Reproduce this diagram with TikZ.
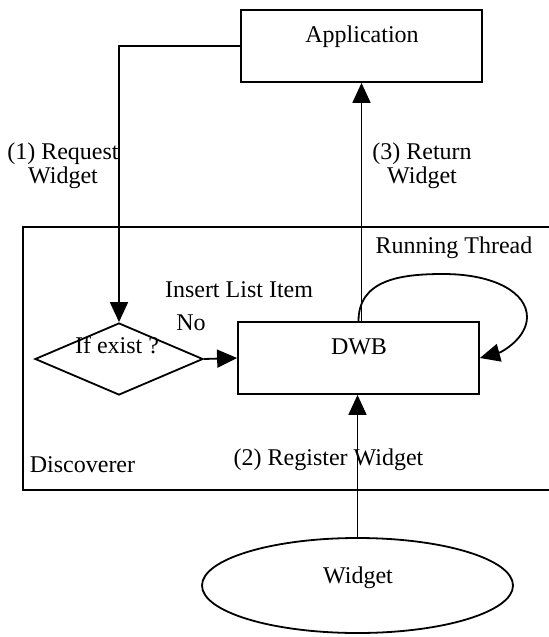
\documentclass[tikz,border=0pt]{standalone}
\usepackage{fontspec}
\setmainfont{Liberation Serif}
\usetikzlibrary{arrows.meta,shapes.geometric}

\begin{document}
\begin{tikzpicture}[x=0.5pt, y=-0.5pt, line width=0.9pt,
        font=\fontsize{12pt}{12pt}\selectfont,
        box/.style={draw, rectangle, minimum width=120.5pt, minimum height=36pt, inner sep=0pt},
        decision/.style={draw, diamond, minimum width=84pt, minimum height=36pt, inner sep=0pt},
        blob/.style={draw, ellipse, minimum width=155.5pt, minimum height=47.5pt, inner sep=0pt},
        lbl/.style={anchor=base, inner sep=0pt},
        flow/.style={-{Triangle[length=10pt, width=9pt]}}]
        \useasboundingbox (0,0) rectangle (549,637);

        % frame of the discoverer, open on the right
        \draw (549,227) -- (23,227) -- (23,490) -- (549,490);

        \node[box] (app) at (361.5,46) {};
        \node[box] (dwb) at (358.5,358) {};
        \node[decision] (ifexist) at (119,359) {};
        \node[blob] (widget) at (357.5,585.5) {};

        \node[lbl] (apptext) at (362,42) {Application};
        \node[lbl] (dwbtext) at (359,354) {DWB};
        \node[lbl] (iftext) at (117,353) {If exist ?};
        \node[lbl] (widgettext) at (358,583) {Widget};
        \node[lbl] (disctext) at (82.5,472) {Discoverer};
        \node[lbl] (regtext) at (328.5,465) {(2) Register Widget};
        \node[lbl] (runtext) at (454,253) {Running Thread};
        \node[lbl] (inserttext) at (239,297) {Insert List Item};
        \node[lbl] (notext) at (191,330) {No};
        \node[align=center, inner sep=0pt] (reqtext) at (63,166) {(1) Request\\Widget};
        \node[align=center, inner sep=0pt] (rettext) at (422,166) {(3) Return\\Widget};

        \draw[flow] (app.west) -| (ifexist.north);
        \draw[flow] (ifexist.east) -- (dwb.west);
        \draw[flow] (dwb.north -| app.south) -- (app.south);
        \draw[flow] (widget.north) -- (widget.north |- dwb.south);

        % running thread loop
        \coordinate (looptop) at (443,274);
        \coordinate (loopright) at (527,317);
        \draw[flow] (dwb.north) .. controls (358.5,280) and (400,274) .. (looptop)
            .. controls (495,274) and (527,293) .. (loopright)
            .. controls (527,338) and (502,352) .. (dwb.east);
    \end{tikzpicture}
\end{document}
